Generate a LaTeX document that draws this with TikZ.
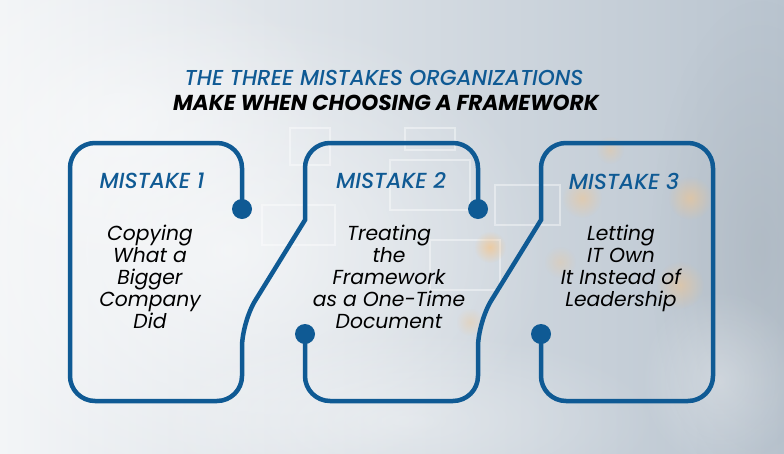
\documentclass[tikz,border=0pt]{standalone}
\usepackage{fontspec}
\setmainfont{Poppins}
\newfontfamily\popmed{Poppins}[UprightFont=* Medium, ItalicFont=* Medium Italic, BoldFont=* SemiBold, BoldItalicFont=* SemiBold Italic]
\usetikzlibrary{fadings}
\tikzfading[name=myfade, inner color=transparent!0, outer color=transparent!100]
\definecolor{mblue}{HTML}{0F5A94}
\definecolor{bgL}{HTML}{F3F5F7}
\definecolor{bgR}{HTML}{B9C4CF}
\definecolor{bok}{HTML}{F6C58A}
\tikzset{
  outline/.style={draw=mblue, line width=4.5pt, rounded corners=25pt},
  dot/.style={fill=mblue},
  headtxt/.style={text=mblue, font=\popmed\itshape\fontsize{21.8}{24}\selectfont, anchor=center},
  bodytxt/.style={text=black, font=\itshape\fontsize{20.3}{21.8}\selectfont, align=center, anchor=north},
  bokeh/.style={fill=bok, path fading=myfade},
  screen/.style={draw=white, line width=1.5pt, opacity=0.4}
}
\begin{document}
\begin{tikzpicture}[x=1pt,y=-1pt]
\useasboundingbox (0,0) rectangle (784,453);
% background
\shade[left color=bgL, right color=bgR, shading angle=90] (0,0) rectangle (784,453);
\fill[white, opacity=0.6, path fading=myfade] (230,250) ellipse (320 and 240);
\fill[white, opacity=0.4, path fading=myfade] (120,120) ellipse (220 and 160);
\fill[white, opacity=0.35, path fading=myfade] (400,420) ellipse (260 and 90);
\fill[bgR!80!black, opacity=0.25, path fading=myfade] (760,250) ellipse (110 and 250);
\fill[white, opacity=0.3, path fading=myfade] (720,380) ellipse (80 and 90);
% faint screen rectangles
\draw[screen] (290,128) rectangle (330,165);
\draw[screen] (405,128) rectangle (455,150);
\draw[screen] (390,160) rectangle (470,210);
\draw[screen] (262,205) rectangle (335,245);
\draw[screen] (430,240) rectangle (500,290);
\draw[screen] (495,185) rectangle (560,225);
% bokeh lights
\fill[bokeh, opacity=0.7] (490,247) circle (16);
\fill[bokeh, opacity=0.5] (582,198) circle (20);
\fill[bokeh, opacity=0.55] (690,198) circle (22);
\fill[bokeh, opacity=0.5] (680,285) circle (24);
\fill[bokeh, opacity=0.35] (610,150) circle (14);
\fill[bokeh, opacity=0.35] (470,322) circle (14);
\fill[bokeh, opacity=0.3] (560,262) circle (16);
% dot coordinates
\coordinate (d1) at (242,209);
\coordinate (d2) at (478,209);
\coordinate (d3) at (305,334);
\coordinate (d4) at (541,334);
% outline A: card 1 + top of card 2
\draw[outline] (d1) -- (242,143) -- (70,143) -- (70,401) -- (242,401) -- (242,322)
  [rounded corners=0pt] -- (305,220) [rounded corners=25pt] -- (305,143) -- (478,143) -- (d2);
% outline B: bottom of card 2 + card 3
\draw[outline] (d3) -- (305,401) -- (478,401) -- (478,322)
  [rounded corners=0pt] -- (541,220) [rounded corners=25pt] -- (541,143) -- (713,143) -- (713,401) -- (541,401) -- (d4);
\foreach \d in {d1,d2,d3,d4} \fill[dot] (\d) circle (10);
% title
\node[text=mblue, font=\popmed\itshape\fontsize{21.6}{24}\selectfont] (t1) at (384,78) {THE THREE MISTAKES ORGANIZATIONS};
\node[text=black, font=\bfseries\itshape\fontsize{21.6}{24}\selectfont] (t2) at (386,103) {MAKE WHEN CHOOSING A FRAMEWORK};
% headings
\node[headtxt] (h1) at (152,181) {MISTAKE 1};
\node[headtxt] (h2) at (391,181) {MISTAKE 2};
\node[headtxt] (h3) at (624,181) {MISTAKE 3};
% bodies
\node[bodytxt] (b1) at (150,222) {Copying\\What a\\Bigger\\Company\\Did};
\node[bodytxt] (b2) at (389,222) {Treating\\the\\Framework\\as a One-Time\\Document};
\node[bodytxt] (b3) at (621,222) {Letting\\IT Own\\It Instead of\\Leadership};
\end{tikzpicture}
\end{document}
